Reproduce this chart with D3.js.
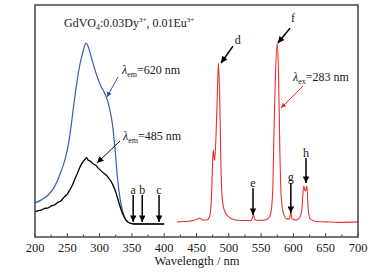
<!DOCTYPE html>
<html><head><meta charset="utf-8">
<script src="https://cdn.jsdelivr.net/npm/d3@7"></script>
<style>
body{margin:0;background:#fff;}
text, tspan{font-family:"Liberation Serif";}
</style></head>
<body><svg id="c" width="386" height="272"></svg>
<script>
// ---- data (wavelength nm, intensity a.u.) ----
const blueWl  = [200,210,220,230,240,247,252,256,260,265,270,275,279,282,287,292,297,302,307,312,316,320,324,328,332,336,340,345,350,360,380,400];
const blueInt = [14.7,16,18,21.6,28,34,40.5,48,57,67,75,80.6,83.6,82.3,77.6,72.8,68.5,65,62.5,59,54.7,48.3,37.5,24.6,16,10.8,7.8,6.3,5.8,5.6,5.6,5.6];

const blackWl  = [200,205,210,215,220,225,230,235,240,245,250,254,258,262,265,268,272,275,278,280,282,286,290,294,298,302,306,310,314,317,320,323,326,330,334,338,342,347,355,370,385,400];
const blackInt = [10.8,11.4,11.6,12.3,12.5,13.4,13.8,14.9,15.5,17.2,18.5,20.3,22.4,25.2,27,29.1,31.5,32.6,33.6,34.2,33.2,32.6,31.5,30.9,29.7,28.6,27.6,26.7,25.4,24.3,22.8,20.9,18.5,14.7,11.2,8.6,6.9,6,5.6,5.6,5.6,5.6];

const redWl  = [420,430,440,450,455,460,466,470,473,475,476,477,478,480,482,484,486,488,490,493,497,505,520,535,538,541,550,560,565,568,570,572,575,577,579,581,584,590,594,596,598,605,610,613,616,618.5,621,623,626,635,650,670,700];
const redInt = [6.5,6.7,6.9,7.5,8.2,7.3,7.3,8.6,16,33,37.5,35,33,42,59,75,59,29,16,11.6,9.5,7.8,7.1,7.1,9.5,7.3,7.1,7.8,10.3,20,46,67.7,83.6,70,37.5,18,10.8,7.8,7.8,10.8,7.8,7.3,8.6,11.6,22,19.8,22,11.6,7.8,6.7,6.5,6.3,6.5];

const xTicks = [200,250,300,350,400,450,500,550,600,650,700];
const xMinor = [225,275,325,375,425,475,525,575,625,675];

// peak markers: label, wavelength, arrow tail value, arrow tip value
const peakLabels = ["a","b","c","e","g","h"];
const peakWl     = [352,366,392,537.5,596,619.5];
const peakTail   = [18.1,18.1,18.1,21,23.3,34];
const peakTip    = [6.5,6.5,6.5,9.5,10.3,23.3];

// diagonal marks d, f
const diagLabels = ["d","f"];
const diagLabelWl = [514,599.5];
const diagLabelV  = [83,92.5];
const diagTailWl  = [506.5,594.7];
const diagTailV   = [82.3,90];
const diagTipWl   = [488,576];
const diagTipV    = [75,83.6];

// ---- layout ----
const FONT = "Liberation Serif";
const svg = d3.select("#c");
const L=35, R=358, T=5, B=237;
const x = d3.scaleLinear().domain([200,700]).range([L,R]);
const y = d3.scaleLinear().domain([0,100]).range([B,T]);
const TXT = "#1a1a1a";

const defs = svg.append("defs");
function marker(id,color,w,h){
  defs.append("marker").attr("id",id).attr("viewBox","0 0 10 10").attr("refX",10).attr("refY",5)
    .attr("markerWidth",w).attr("markerHeight",h).attr("markerUnits","userSpaceOnUse").attr("orient","auto")
    .append("path").attr("d","M0,0L10,5L0,10Z").attr("fill",color);
}
marker("ab","#000",10,6.5);
marker("ar","#e8302f",7,5);
marker("abl","#2f4ea3",7,5);

const line = d3.line().x(d=>x(d[0])).y(d=>y(d[1])).curve(d3.curveMonotoneX);
function draw(wl,v,color,w){
  svg.append("path").datum(wl.map((d,i)=>[d,v[i]])).attr("d",line)
    .attr("fill","none").attr("stroke",color).attr("stroke-width",w);
}
draw(blueWl,blueInt,"#3a5cb4",1.2);
draw(blackWl,blackInt,"#000",1.3);
draw(redWl,redInt,"#e8302f",1.1);

svg.append("rect").attr("x",L).attr("y",T).attr("width",R-L).attr("height",B-T)
  .attr("fill","none").attr("stroke","#444").attr("stroke-width",1.5);

const ax = svg.append("g");
ax.selectAll(".mj").data(xTicks).join("line").attr("x1",d=>x(d)).attr("x2",d=>x(d))
  .attr("y1",B).attr("y2",B-4).attr("stroke","#444").attr("stroke-width",1);
ax.selectAll(".mn").data(xMinor).join("line").attr("x1",d=>x(d)).attr("x2",d=>x(d))
  .attr("y1",B).attr("y2",B-2.5).attr("stroke","#444").attr("stroke-width",1);
ax.selectAll("text").data(xTicks).join("text").attr("x",d=>x(d)).attr("y",252)
  .attr("font-family",FONT).attr("text-anchor","middle").attr("font-size",12.5).attr("fill",TXT).text(d=>d);
svg.append("text").attr("x",197).attr("y",265).attr("text-anchor","middle").attr("font-family",FONT)
  .attr("font-size",12.5).attr("fill",TXT).text("Wavelength / nm");

const t = svg.append("text").attr("x",64).attr("y",27).attr("font-size",12).attr("fill",TXT).attr("font-family",FONT);
t.append("tspan").text("GdVO");
t.append("tspan").attr("font-size",8).attr("dy",3).text("4");
t.append("tspan").attr("dy",-3).text(":0.03Dy");
t.append("tspan").attr("font-size",7).attr("dy",-5).text("3+");
t.append("tspan").attr("dy",5).text(", 0.01Eu");
t.append("tspan").attr("font-size",7).attr("dy",-5).text("3+");

function lam(px,py,sub,val){
  const g = svg.append("text").attr("x",px).attr("y",py).attr("font-size",12).attr("fill",TXT).attr("font-family",FONT);
  g.append("tspan").attr("font-style","italic").text("λ");
  g.append("tspan").attr("font-size",8).attr("dy",3).text(sub);
  g.append("tspan").attr("dy",-3).text(val);
}
lam(122,74,"em","=620 nm");
lam(123,140,"em","=485 nm");
lam(293,81,"ex","=283 nm");

function arrow(x1,y1,x2,y2,color,m,w){
  svg.append("line").attr("x1",x1).attr("y1",y1).attr("x2",x2).attr("y2",y2)
    .attr("stroke",color).attr("stroke-width",w).attr("marker-end",`url(#${m})`);
}
arrow(118,77,107,97,"#2f4ea3","abl",1);
arrow(120,141,97,163,"#000","ab",1);
arrow(303,86,281,108,"#e8302f","ar",1);

peakLabels.forEach((lb,i)=>{
  arrow(x(peakWl[i]),y(peakTail[i]),x(peakWl[i]),y(peakTip[i]),"#000","ab",1.5);
  svg.append("text").attr("x",x(peakWl[i])).attr("y",y(peakTail[i])-1.5).attr("font-family",FONT)
    .attr("text-anchor","middle").attr("font-size",12).attr("fill",TXT).text(lb);
});
diagLabels.forEach((lb,i)=>{
  arrow(x(diagTailWl[i]),y(diagTailV[i]),x(diagTipWl[i]),y(diagTipV[i]),"#000","ab",1.5);
  svg.append("text").attr("x",x(diagLabelWl[i])).attr("y",y(diagLabelV[i])).attr("font-family",FONT)
    .attr("text-anchor","middle").attr("font-size",12).attr("fill",TXT).text(lb);
});
</script></body></html>
